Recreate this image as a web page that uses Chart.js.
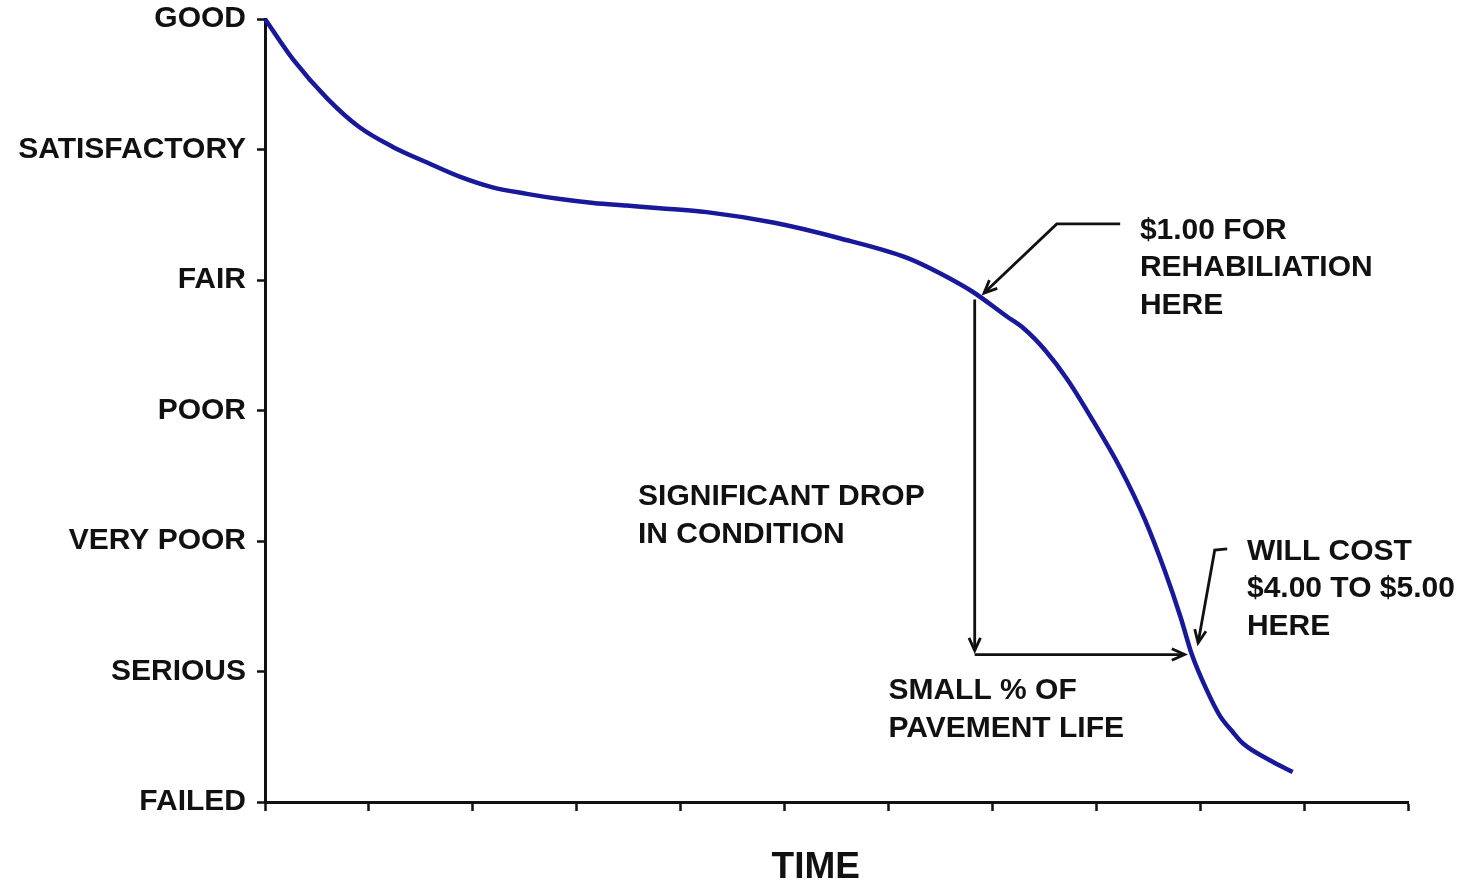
<!DOCTYPE html>
<html>
<head>
<meta charset="utf-8">
<title>Pavement condition over time</title>
<script src="https://cdn.jsdelivr.net/npm/chart.js@4.4.0/dist/chart.umd.min.js"></script>
<style>
  html, body { margin: 0; padding: 0; background: #fff; }
  #wrap { width: 1477px; height: 884px; }
</style>
</head>
<body>
<div id="wrap"><canvas id="chart" width="1477" height="884"></canvas></div>
<script>
// condition scale, bottom (0) to top (6)
const conditionLabels = ['FAILED', 'SERIOUS', 'VERY POOR', 'POOR', 'FAIR', 'SATISFACTORY', 'GOOD'];

// time axis: 11 unlabeled divisions
const timeMin = 0;
const timeMax = 11;

// deterioration curve
const timeValues = [0, 0.27, 0.6, 0.91, 1.23, 1.56, 1.88, 2.19, 2.52, 2.84, 3.16, 3.48, 3.8, 4.25, 4.89, 5.53, 6.18, 6.5, 6.81, 7.14, 7.3, 7.51, 7.72, 7.97, 8.23, 8.47, 8.66, 8.81, 8.92, 9.05, 9.19, 9.31, 9.41, 9.67, 9.89];
const conditionValues = [6.0, 5.69, 5.39, 5.17, 5.02, 4.9, 4.79, 4.71, 4.66, 4.62, 4.59, 4.57, 4.55, 4.52, 4.44, 4.32, 4.17, 4.05, 3.91, 3.72, 3.63, 3.46, 3.24, 2.92, 2.56, 2.16, 1.77, 1.42, 1.13, 0.88, 0.66, 0.54, 0.45, 0.32, 0.23];

const FONT = '"Liberation Sans", Arial, sans-serif';
const INK = '#111';

// --- annotations: text blocks and arrows (in data units) ---
const notes = [
    { x: 8.42, y: 4.40, lines: ['$1.00 FOR', 'REHABILIATION', 'HERE'] },
    { x: 3.59, y: 2.36, lines: ['SIGNIFICANT DROP', 'IN CONDITION'] },
    { x: 6.00, y: 0.87, lines: ['SMALL % OF', 'PAVEMENT LIFE'] },
    { x: 9.45, y: 1.94, lines: ['WILL COST', '$4.00 TO $5.00', 'HERE'] }
];
const arrows = [
    [[8.23, 4.43], [7.62, 4.43], [6.92, 3.90]],
    [[6.83, 3.85], [6.83, 1.16]],
    [[6.83, 1.13], [8.85, 1.13]],
    [[9.26, 1.94], [9.14, 1.93], [8.98, 1.22]]
];

function drawArrow(ctx, pts) {
    ctx.beginPath();
    pts.forEach((p, i) => i ? ctx.lineTo(p[0], p[1]) : ctx.moveTo(p[0], p[1]));
    ctx.stroke();
    const [a, b] = pts.slice(-2);
    const ang = Math.atan2(b[1] - a[1], b[0] - a[0]);
    const len = 14, spread = 0.42;
    ctx.beginPath();
    ctx.moveTo(b[0] - len * Math.cos(ang - spread), b[1] - len * Math.sin(ang - spread));
    ctx.lineTo(b[0], b[1]);
    ctx.lineTo(b[0] - len * Math.cos(ang + spread), b[1] - len * Math.sin(ang + spread));
    ctx.stroke();
}

const notesPlugin = {
    id: 'notes',
    afterDatasetsDraw(chart) {
        const { ctx, scales: { x, y } } = chart;
        ctx.save();
        ctx.strokeStyle = INK;
        ctx.lineWidth = 2.8;
        arrows.forEach(a => drawArrow(ctx, a.map(p => [x.getPixelForValue(p[0]), y.getPixelForValue(p[1])])));

        ctx.fillStyle = INK;
        ctx.font = 'bold 30px ' + FONT;
        ctx.textAlign = 'left';
        ctx.textBaseline = 'alphabetic';
        notes.forEach(n => {
            const px = x.getPixelForValue(n.x);
            const py = y.getPixelForValue(n.y);
            n.lines.forEach((t, i) => ctx.fillText(t, px, py + 11 + i * 37.5));
        });

        // axis name under the time axis
        ctx.font = 'bold 37px ' + FONT;
        ctx.textAlign = 'center';
        ctx.fillText('TIME', x.getPixelForValue(5.3), chart.chartArea.bottom + 76);
        ctx.restore();
    }
};

const ctx = document.getElementById('chart').getContext('2d');
new Chart(ctx, {
    type: 'line',
    data: {
        datasets: [{
            label: 'Pavement condition',
            data: timeValues.map((t, i) => ({ x: t, y: conditionValues[i] })),
            borderColor: '#18189a',
            borderWidth: 4.5,
            pointRadius: 0,
            fill: false,
            cubicInterpolationMode: 'monotone',
            clip: 10
        }]
    },
    options: {
        responsive: false,
        animation: false,
        layout: { padding: { top: 19, right: 69, left: 0, bottom: 0 } },
        plugins: { legend: { display: false }, tooltip: { enabled: false } },
        scales: {
            x: {
                type: 'linear', min: timeMin, max: timeMax,
                ticks: { display: false, stepSize: 1 },
                grid: { drawOnChartArea: false, tickLength: 9, tickWidth: 2.5, color: INK },
                border: { color: INK, width: 3 },
                afterFit(s) { s.height = 82; }
            },
            y: {
                type: 'linear', min: 0, max: conditionLabels.length - 1,
                ticks: {
                    stepSize: 1, padding: 11, color: INK,
                    font: { family: FONT, size: 30, weight: 'bold', lineHeight: 1 },
                    callback: v => conditionLabels[v]
                },
                grid: { drawOnChartArea: false, tickLength: 8, tickWidth: 2.5, color: INK },
                border: { color: INK, width: 3 },
                afterFit(s) { s.width = 265; s.paddingTop = 0; s.paddingBottom = 0; }
            }
        }
    },
    plugins: [notesPlugin]
});
</script>
</body>
</html>
